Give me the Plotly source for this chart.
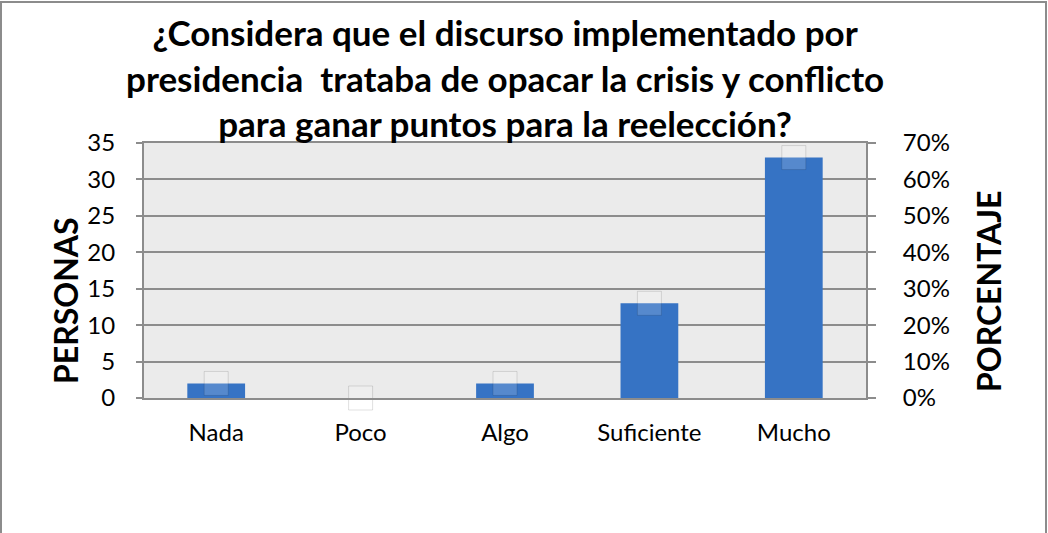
import plotly.graph_objects as go

# Survey answers and counts
categories = ["Nada", "Poco", "Algo", "Suficiente", "Mucho"]
personas = [2, 0, 2, 13, 33]
porcentaje = [0.04, 0.0, 0.04, 0.26, 0.66]

left_ticks = [0, 5, 10, 15, 20, 25, 30, 35]
right_ticks = [0, 0.1, 0.2, 0.3, 0.4, 0.5, 0.6, 0.7]

title_text = ("¿Considera que el discurso implementado por<br>"
              "presidencia  trataba de opacar la crisis y conflicto<br>"
              "para ganar puntos para la reelección?")

FONT = "Lato"
GRID = "#8c8c8c"
PLOT_L, PLOT_T = 144, 143
PLOT_W, PLOT_H = 722, 255

fig = go.Figure()

fig.add_trace(go.Bar(
    x=categories, y=personas, name="PERSONAS",
    marker=dict(color="#3673c4", line=dict(width=0)),
    yaxis="y",
))

# Percentage series shown as translucent square markers
fig.add_trace(go.Scatter(
    x=categories, y=porcentaje, name="PORCENTAJE", mode="markers",
    marker=dict(symbol="square", size=24, color="rgba(255,255,255,0.16)",
                line=dict(width=1, color="rgba(0,0,0,0.12)")),
    yaxis="y2", cliponaxis=False,
))

axis_title_font = dict(family=FONT, size=32, color="black", weight="bold")


def px_x(px):
    return (px - PLOT_L) / PLOT_W


def px_y(px):
    return 1 - (px - PLOT_T) / PLOT_H


fig.update_layout(
    width=1048, height=533,
    margin=dict(l=PLOT_L, r=1048 - PLOT_L - PLOT_W, t=PLOT_T, b=533 - PLOT_T - PLOT_H),
    paper_bgcolor="white",
    plot_bgcolor="#ebebeb",
    bargap=0.6,
    showlegend=False,
    font=dict(family=FONT, color="black", size=24),
    xaxis=dict(
        showgrid=False, showline=True, linecolor=GRID, linewidth=2, mirror=True,
        tickfont=dict(size=24), ticks="", ticklabelstandoff=12,
    ),
    yaxis=dict(
        range=[0, 35], tickvals=left_ticks,
        showgrid=True, gridcolor=GRID, gridwidth=2,
        showline=True, linecolor=GRID, linewidth=2,
        ticks="outside", ticklen=6, tickcolor=GRID, tickwidth=2,
        tickfont=dict(size=24), zeroline=False, ticklabelstandoff=16,
    ),
    yaxis2=dict(
        range=[0, 0.7], tickvals=right_ticks, tickformat=".0%",
        overlaying="y", side="right", showgrid=False,
        showline=True, linecolor=GRID, linewidth=2,
        ticks="outside", ticklen=8, tickcolor=GRID, tickwidth=2,
        tickfont=dict(size=24), zeroline=False, ticklabelstandoff=22,
    ),
    annotations=[
        dict(text=title_text, showarrow=False,
             xref="paper", yref="paper", x=0.5, xanchor="center",
             y=px_y(9), yanchor="top",
             font=dict(family=FONT, size=35, color="black", weight="bold")),
        dict(text="PERSONAS", showarrow=False, textangle=-90,
             xref="paper", yref="paper", x=px_x(65), xanchor="center",
             y=px_y(301), yanchor="middle", font=axis_title_font),
        dict(text="PORCENTAJE", showarrow=False, textangle=-90,
             xref="paper", yref="paper", x=px_x(988), xanchor="center",
             y=px_y(292), yanchor="middle", font=axis_title_font),
    ],
    shapes=[dict(type="rect", xref="paper", yref="paper",
                 x0=px_x(1), x1=px_x(1046),
                 y0=px_y(538), y1=px_y(2),
                 line=dict(color="#8c8c8c", width=2), layer="below")],
)

fig.write_html("out.html")
